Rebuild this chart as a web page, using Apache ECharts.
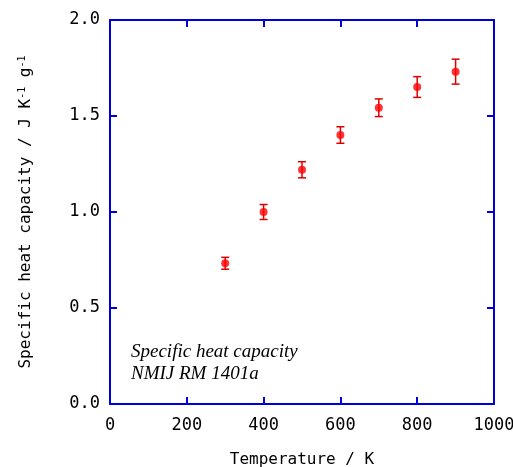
<!DOCTYPE html>
<html>
<head>
<meta charset="utf-8">
<script src="https://cdn.jsdelivr.net/npm/echarts@6/dist/echarts.min.js"></script>
<style>
	html, body { margin: 0; padding: 0; background: #fff; }
	#chart { width: 513px; height: 467px; }
</style>
</head>
<body>
<div id="chart"></div>
<script>
const temperatures = [300, 400, 500, 600, 700, 800, 900];
const heatCapacity = [0.733, 1.0, 1.22, 1.401, 1.543, 1.651, 1.731];
const uncertainty = [0.031, 0.039, 0.042, 0.043, 0.046, 0.054, 0.065];
const xTicks = [0, 200, 400, 600, 800, 1000];
const yTicks = [0.0, 0.5, 1.0, 1.5, 2.0];

const blue = "#0000dd";
const labelFont = "DejaVu Sans Mono";

const points = temperatures.map((t, i) => [t, heatCapacity[i]]);
const bars = temperatures.map((t, i) => [t, heatCapacity[i] - uncertainty[i], heatCapacity[i] + uncertainty[i]]);

const chart = echarts.init(document.getElementById("chart"));

// frame pieces, fresh objects for every axis
const frameLine = () => ({ show: true, onZero: false, lineStyle: { color: blue, width: 2 } });
const frameTick = () => ({ show: true, inside: true, length: 7, lineStyle: { color: blue, width: 2 } });

const option = {
	animation: false,
	backgroundColor: "#fff",
	grid: { left: 110, right: 19, top: 20, bottom: 63, outerBoundsMode: "none", containLabel: false },
	xAxis: [
		{
			type: "value",
			gridIndex: 0,
			position: "bottom",
			min: xTicks[0],
			max: xTicks[xTicks.length - 1],
			interval: 200,
			name: "Temperature / K",
			nameLocation: "middle",
			nameGap: 48,
			nameTextStyle: { fontFamily: labelFont, fontSize: 16, color: "#000" },
			axisLine: frameLine(),
			axisTick: frameTick(),
			axisLabel: { margin: 13, fontFamily: labelFont, fontSize: 17, color: "#000", formatter: (v) => String(v) },
			splitLine: { show: false }
		},
		{
			type: "value",
			gridIndex: 0,
			position: "top",
			min: xTicks[0],
			max: xTicks[xTicks.length - 1],
			interval: 200,
			axisLine: frameLine(),
			axisTick: frameTick(),
			axisLabel: { show: false },
			splitLine: { show: false }
		}
	],
	yAxis: [
		{
			type: "value",
			gridIndex: 0,
			position: "left",
			min: yTicks[0],
			max: yTicks[yTicks.length - 1],
			interval: 0.5,
			name: "{a|Specific heat capacity / J K}{s|-1}{a| g}{s|-1}",
			nameLocation: "middle",
			nameGap: 75,
			nameTextStyle: {
				rich: {
					a: { fontFamily: labelFont, fontSize: 16, color: "#000" },
					s: { fontFamily: labelFont, fontSize: 10, color: "#000", verticalAlign: "top", padding: [0, 0, 8, 0] }
				}
			},
			axisLine: frameLine(),
			axisTick: frameTick(),
			axisLabel: {
				margin: 10,
				fontFamily: labelFont,
				fontSize: 17,
				color: "#000",
				formatter: (v) => v.toFixed(1)
			},
			splitLine: { show: false }
		},
		{
			type: "value",
			gridIndex: 0,
			position: "right",
			min: yTicks[0],
			max: yTicks[yTicks.length - 1],
			interval: 0.5,
			axisLine: frameLine(),
			axisTick: frameTick(),
			axisLabel: { show: false },
			splitLine: { show: false }
		}
	],
	graphic: [
		{
			type: "text",
			left: 131,
			top: 341,
			style: {
				text: "Specific heat capacity\nNMIJ RM 1401a",
				font: "italic 19px 'Liberation Serif'",
				lineHeight: 22,
				fill: "#000"
			}
		}
	],
	series: [
		{
			type: "custom",
			name: "error",
			data: bars,
			z: 2,
			renderItem(params, api) {
				const x = api.value(0);
				const lo = api.coord([x, api.value(1)]);
				const hi = api.coord([x, api.value(2)]);
				const w = 4;
				const style = { stroke: "#dd0000", lineWidth: 1.5 };
				return {
					type: "group",
					children: [
						{ type: "line", shape: { x1: lo[0], y1: lo[1], x2: hi[0], y2: hi[1] }, style },
						{ type: "line", shape: { x1: lo[0] - w, y1: lo[1], x2: lo[0] + w, y2: lo[1] }, style },
						{ type: "line", shape: { x1: hi[0] - w, y1: hi[1], x2: hi[0] + w, y2: hi[1] }, style }
					]
				};
			}
		},
		{
			type: "scatter",
			name: "Cp",
			data: points,
			symbol: "circle",
			symbolSize: 8,
			z: 3,
			itemStyle: { color: "#ff0000" }
		},
		// empty series so the top and right frame axes get drawn
		{
			type: "scatter",
			name: "frame",
			xAxisIndex: 1,
			yAxisIndex: 1,
			data: [],
			silent: true
		}
	]
};

option && chart.setOption(option);
</script>
</body>
</html>
